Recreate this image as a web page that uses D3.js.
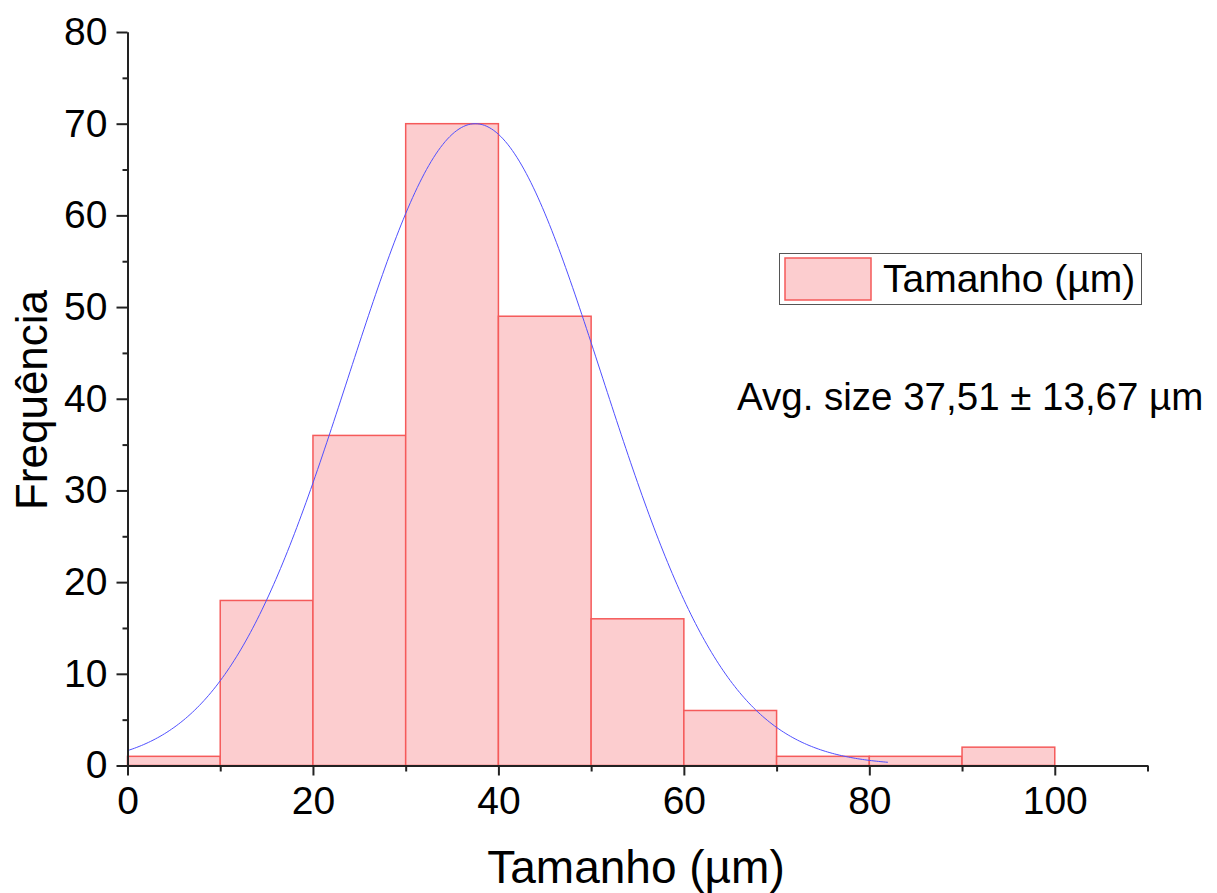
<!DOCTYPE html>
<html>
<head>
<meta charset="utf-8">
<script src="https://cdn.jsdelivr.net/npm/d3@7"></script>
<style>
  body { margin: 0; background: #fff; }
  text { font-family: "Liberation Sans", Arial, sans-serif; fill: #000; }
</style>
</head>
<body>
<div id="grafico"></div>
<script>
// bins (lower edges) and counts
var binStart = [0, 10, 20, 30, 40, 50, 60, 70, 80, 90];
var binWidth = 10;
var counts = [1, 18, 36, 70, 49, 16, 6, 1, 1, 2];

// gaussian fit shown on the chart
var fitCenter = 37.51,
    fitSd = 13.67,
    fitPeak = 70,
    fitRange = [0, 82];

var xMajor = [0, 20, 40, 60, 80, 100];
var xMinor = [10, 30, 50, 70, 90, 110];
var yMajor = [0, 10, 20, 30, 40, 50, 60, 70, 80];
var yMinor = [5, 15, 25, 35, 45, 55, 65, 75];

var width = 1217,
    height = 893;

var svg = d3.select("#grafico").append("svg")
    .attr("width", width)
    .attr("height", height)
    .style("background-color", "white");

var x = d3.scaleLinear().domain([0, 110]).range([127.5, 1147.5]);
var y = d3.scaleLinear().domain([0, 80]).range([765.5, 32]);

// bars
svg.append("g").selectAll("rect")
    .data(counts)
    .enter()
    .append("rect")
    .attr("x", function(d, i) { return x(binStart[i]) })
    .attr("width", function(d, i) { return x(binStart[i] + binWidth) - x(binStart[i]) })
    .attr("y", function(d) { return y(d) })
    .attr("height", function(d) { return y(0) - y(d) })
    .attr("fill", "#fccdcf")
    .attr("stroke", "#f55a5a")
    .attr("stroke-width", 1.5);

// fit curve
var fitX = d3.range(fitRange[0], fitRange[1] + 0.01, 0.25);
var line = d3.line()
    .x(function(d) { return x(d) })
    .y(function(d) { return y(fitPeak * Math.exp(-Math.pow(d - fitCenter, 2) / (2 * fitSd * fitSd))) });

svg.append("path")
    .datum(fitX)
    .attr("d", line)
    .attr("fill", "none")
    .attr("stroke", "#5050ff")
    .attr("stroke-width", 1);

// axes
function styleAxis(g) {
    g.select(".domain").attr("stroke", "#222").attr("stroke-width", 2);
    g.selectAll(".tick line").attr("stroke", "#222").attr("stroke-width", 2);
    g.selectAll(".tick text")
        .style("font-family", "'Liberation Sans', Arial, sans-serif")
        .style("font-size", "39px")
        .attr("fill", "#000");
}

svg.append("g")
    .attr("transform", "translate(0," + y(0) + ")")
    .call(d3.axisBottom(x).tickValues(xMinor).tickSize(6).tickFormat("").tickSizeOuter(0))
    .call(styleAxis);

svg.append("g")
    .attr("transform", "translate(0," + y(0) + ")")
    .call(d3.axisBottom(x).tickValues(xMajor).tickSize(10).tickPadding(11).tickSizeOuter(0))
    .call(styleAxis);

svg.append("g")
    .attr("transform", "translate(" + x(0) + ",0)")
    .call(d3.axisLeft(y).tickValues(yMinor).tickSize(5).tickFormat("").tickSizeOuter(0))
    .call(styleAxis);

svg.append("g")
    .attr("transform", "translate(" + x(0) + ",0)")
    .call(d3.axisLeft(y).tickValues(yMajor).tickSize(11).tickPadding(9).tickSizeOuter(0))
    .call(styleAxis);

// axis titles
svg.append("text")
    .attr("x", 636)
    .attr("y", 883)
    .attr("text-anchor", "middle")
    .style("font-size", "46px")
    .text("Tamanho (µm)");

svg.append("text")
    .attr("transform", "translate(47,400) rotate(-90)")
    .attr("text-anchor", "middle")
    .style("font-size", "44px")
    .text("Frequência");

// legend
var legend = svg.append("g");
legend.append("rect")
    .attr("x", 779.5)
    .attr("y", 253.5)
    .attr("width", 362)
    .attr("height", 51)
    .attr("fill", "white")
    .attr("stroke", "#555")
    .attr("stroke-width", 1);
legend.append("rect")
    .attr("x", 785)
    .attr("y", 258)
    .attr("width", 86)
    .attr("height", 42)
    .attr("fill", "#fccdcf")
    .attr("stroke", "#f55a5a")
    .attr("stroke-width", 1.5);
legend.append("text")
    .attr("x", 883)
    .attr("y", 292)
    .style("font-size", "39px")
    .text("Tamanho (µm)");

svg.append("text")
    .attr("x", 737)
    .attr("y", 410)
    .style("font-size", "38.5px")
    .text("Avg. size 37,51 ± 13,67 µm");
</script>
</body>
</html>
